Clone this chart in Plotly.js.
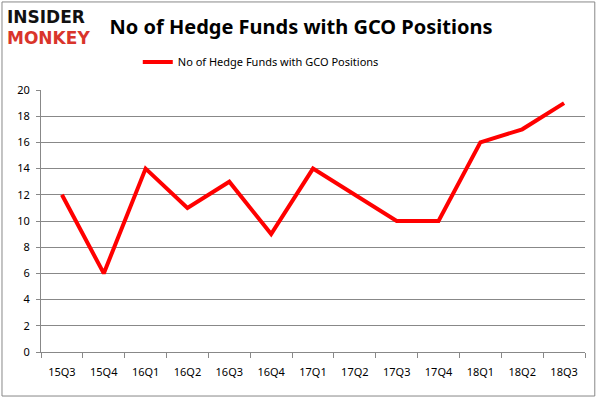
<!DOCTYPE html>
<html><head><meta charset="utf-8">
<script src="https://cdn.plot.ly/plotly-3.0.1.min.js"></script>
<style>body{margin:0;}#c{width:602px;height:398px;}</style>
</head><body><div id="c"></div>
<script>
const quarters = ["15Q3","15Q4","16Q1","16Q2","16Q3","16Q4","17Q1","17Q2","17Q3","17Q4","18Q1","18Q2","18Q3"];
const hedgeFunds = [12,6,14,11,13,9,14,12,10,10,16,17,19];
const seriesName = "No of Hedge Funds with GCO Positions";
const yTicks = [0,2,4,6,8,10,12,14,16,18,20];

const trace = {x: quarters, y: hedgeFunds, type: "scatter", mode: "lines", name: seriesName,
  line: {color: "#ff0000", width: 4}};

const layout = {
  width: 602, height: 398,
  margin: {l: 41, r: 17, t: 90, b: 46},
  paper_bgcolor: "#ffffff", plot_bgcolor: "#ffffff",
  font: {family: "Noto Sans, Liberation Sans, sans-serif", size: 11, color: "#000"},
  showlegend: true,
  legend: {orientation: "h", x: 0.404, xanchor: "center", y: 1.107, yanchor: "middle", font: {size: 11}},
  title: {text: "<b>No of Hedge Funds with GCO Positions</b>", x: 0.5, xanchor: "center", y: 0.932, yanchor: "middle",
    font: {size: 20, color: "#000", family: "Noto Sans, Liberation Sans, sans-serif"}},
  xaxis: {type: "category", tickson: "boundaries", ticks: "outside", ticklen: 5, tickcolor: "#888",
    ticklabelstandoff: 10,
    showline: true, linecolor: "#888", showgrid: false, tickfont: {size: 11}, range: [-0.5, 12.5]},
  yaxis: {range: [0, 20], tickvals: yTicks, ticks: "outside", ticklen: 4, tickcolor: "#888",
    ticklabelstandoff: 4,
    showline: true, linecolor: "#888", showgrid: true, gridcolor: "#888", gridwidth: 1, zeroline: false, tickfont: {size: 11}},
  shapes: [{type: "rect", xref: "paper", yref: "paper", x0: -0.0717, x1: 1.018, y0: -0.168, y1: 1.336,
    line: {color: "#888", width: 1}}],
  annotations: [
    {text: "<b>INSIDER</b>", xref: "paper", yref: "paper", x: -0.066, y: 1.279, xanchor: "left", yanchor: "middle",
     showarrow: false, font: {size: 17, color: "#111", family: "DejaVu Sans, sans-serif"}},
    {text: "<b>MONKEY</b>", xref: "paper", yref: "paper", x: -0.066, y: 1.198, xanchor: "left", yanchor: "middle",
     showarrow: false, font: {size: 17, color: "#d9342b", family: "DejaVu Sans, sans-serif"}}
  ]
};
Plotly.newPlot("c", [trace], layout, {displayModeBar: false, staticPlot: true});
</script></body></html>
